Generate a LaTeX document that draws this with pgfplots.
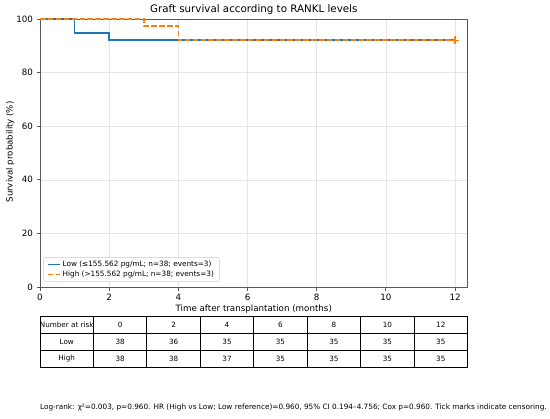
\documentclass[border=0pt]{standalone}
\usepackage{pgfplots}
\pgfplotsset{compat=1.18}
\usepackage{fontspec}
\setmainfont{DejaVu Sans}
\definecolor{tabblue}{HTML}{1F77B4}
\definecolor{taborange}{HTML}{FF7F0E}
\newcommand{\fs}[1]{\fontsize{#1bp}{1.2\dimexpr#1bp\relax}\selectfont}
\begin{document}
\begin{tikzpicture}[x=1bp,y=1bp]
\path[use as bounding box, fill=white] (0,0) rectangle (550,418);
\begin{axis}[
  at={(40bp,131bp)}, anchor=south west,
  scale only axis, width=427.5bp, height=268bp,
  xmin=0, xmax=12.36, ymin=0, ymax=100,
  xtick={0,2,...,12}, ytick={0,20,...,100},
  xtick pos=bottom, ytick pos=left,
  tick align=outside, major tick length=3.5bp,
  grid=major, grid style={color=black!10, line width=0.5bp},
  axis line style={color=black!65, line width=0.9bp},
  tick style={color=black!65, line width=0.8bp},
  ticklabel style={font=\fs{8.7}},
  /pgf/number format/assume math mode=true,
  legend style={at={(0.008,0.02)}, anchor=south west, draw=black!20,
    rounded corners=2bp, fill=white, fill opacity=0.8, text opacity=1,
    font=\fs{7.3}, inner xsep=3.5bp, inner ysep=1.5bp, row sep=-1bp, cells={anchor=west}},
  legend image code/.code={\draw[#1] (0bp,0bp) -- (12bp,0bp);},
]
\addplot[tabblue, line width=1.5bp, const plot] coordinates {
 (0,100) (1,94.737) (2,92.105) (12,92.105)};
\addlegendentry{Low (≤155.562 pg/mL; n=38; events=3)}
\addplot[taborange, line width=1.5bp, const plot, dash pattern=on 5.5bp off 2.4bp] coordinates {
 (0,100) (3,97.368) (4,92.105) (12,92.105)};
\addlegendentry{High (>155.562 pg/mL; n=38; events=3)}
\addplot[tabblue, only marks, mark=+, mark size=4bp, line width=1.2bp, forget plot] coordinates {(12,92.105)};
\addplot[taborange, only marks, mark=+, mark size=4bp, line width=1.2bp, forget plot] coordinates {(12,92.105)};
\end{axis}
% title and labels
\node[anchor=base, font=\fs{10.3}] at (253.75,405) {Graft survival according to RANKL levels};
\node[anchor=base, font=\fs{8.7}] at (253.75,106.5) {Time after transplantation (months)};
\node[anchor=base, rotate=90, font=\fs{8.6}] at (12.5,266) {Survival probability (\%)};
% number-at-risk table
\def\cw{53.4375}
\foreach \yy in {101.7,84.7,67.7,50.7} \draw[line width=0.8bp] (40,\yy) -- (467.5,\yy);
\foreach \k in {0,...,8} \draw[line width=0.8bp] ({40+\k*\cw},50.7) -- ({40+\k*\cw},101.7);
\node[font=\fs{7.2}] at ({40+0.5*\cw},93.2) {Number at risk};
\node[font=\fs{7.2}] at ({40+0.5*\cw},76.2) {Low};
\node[font=\fs{7.2}] at ({40+0.5*\cw},59.2) {High};
\foreach \lab [count=\i] in {0,2,4,6,8,10,12}
  \node[font=\fs{7.2}] at ({40+(\i+0.5)*\cw},93.2) {\lab};
\foreach \lab [count=\i] in {38,36,35,35,35,35,35}
  \node[font=\fs{7.2}] at ({40+(\i+0.5)*\cw},76.2) {\lab};
\foreach \lab [count=\i] in {38,38,37,35,35,35,35}
  \node[font=\fs{7.2}] at ({40+(\i+0.5)*\cw},59.2) {\lab};
% footnote
\node[anchor=base west, inner sep=0pt, font=\fs{7.3}] at (40,9) {Log-rank: χ²=0.003, p=0.960. HR (High vs Low; Low reference)=0.960, 95\% CI 0.194–4.756; Cox p=0.960. Tick marks indicate censoring.};
\end{tikzpicture}
\end{document}
